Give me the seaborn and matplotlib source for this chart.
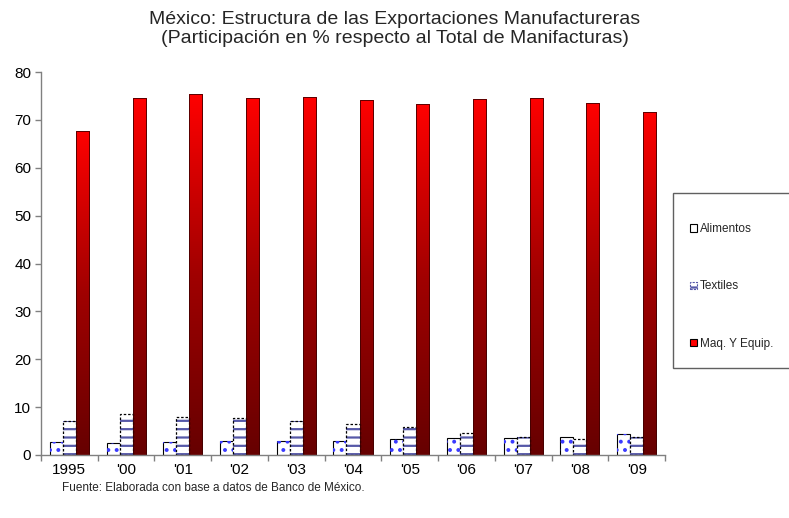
import numpy as np
import pandas as pd
import matplotlib
matplotlib.use("Agg")
import matplotlib.pyplot as plt
from matplotlib.patches import Rectangle, Patch
from matplotlib.colors import LinearSegmentedColormap
import seaborn as sns

years = ["1995", "'00", "'01", "'02", "'03", "'04", "'05", "'06", "'07", "'08", "'09"]
alimentos = [2.8, 2.5, 2.7, 3.0, 3.0, 3.0, 3.3, 3.5, 3.5, 3.7, 4.4]
textiles = [7.2, 8.6, 7.9, 7.7, 7.2, 6.4, 5.8, 4.6, 3.8, 3.3, 3.7]
maquinaria = [67.7, 74.5, 75.4, 74.5, 74.7, 74.2, 73.3, 74.4, 74.5, 73.5, 71.7]
series = ["Alimentos", "Textiles", "Maq. Y Equip."]
title = "México: Estructura de las Exportaciones Manufactureras\n(Participación en % respecto al Total de Manifacturas)"
source = "Fuente: Elaborada con base a datos de Banco de México."

df = pd.DataFrame({
    "year": years * 3,
    "value": alimentos + textiles + maquinaria,
    "serie": [series[0]] * len(years) + [series[1]] * len(years) + [series[2]] * len(years),
})

sns.set_theme(style="white")
plt.rcParams["font.family"] = ["Liberation Sans", "DejaVu Sans"]
plt.rcParams["hatch.linewidth"] = 1.6

fig = plt.figure(figsize=(7.89, 5.18), dpi=100)
ax = fig.add_axes([41 / 789, 63 / 518, 624 / 789, 383 / 518])

sns.barplot(data=df, x="year", y="value", hue="serie", order=years, hue_order=series,
            palette=["white", "white", "red"], width=0.69, legend=False, ax=ax,
            saturation=1)

cont_al, cont_tx, cont_mq = ax.containers
for p in cont_al:
    p.set_facecolor("white")
    p.set_edgecolor("black")
    p.set_linewidth(0.8)
    ov = Rectangle(p.get_xy(), p.get_width(), p.get_height(), facecolor="none",
                   edgecolor="#3a3aff", linewidth=0, hatch="..", zorder=p.get_zorder() + 0.1)
    ax.add_patch(ov)
for p in cont_tx:
    p.set_facecolor("white")
    p.set_edgecolor("none")
    z = p.get_zorder()
    ov = Rectangle(p.get_xy(), p.get_width(), p.get_height(), facecolor="none",
                   edgecolor="#5658a8", linewidth=0, hatch="--", zorder=z + 0.1)
    ax.add_patch(ov)
    bd = Rectangle(p.get_xy(), p.get_width(), p.get_height(), facecolor="none",
                   edgecolor="black", linewidth=0.9, linestyle=(0, (2, 1.5)), zorder=z + 0.2)
    ax.add_patch(bd)

cmap = LinearSegmentedColormap.from_list("rg", ["#660000", "#a00000", "#ff0000"])
grad = np.linspace(0, 1, 256).reshape(-1, 1)
for p in cont_mq:
    x0, h, w = p.get_x(), p.get_height(), p.get_width()
    im = ax.imshow(grad, extent=[x0, x0 + w, 0, h], origin="lower", cmap=cmap,
                   aspect="auto", zorder=p.get_zorder() + 0.1)
    im.set_clip_path(p)
    ov = Rectangle(p.get_xy(), w, h, facecolor="none", edgecolor="#400000",
                   linewidth=0.6, zorder=p.get_zorder() + 0.2)
    ax.add_patch(ov)

ax.set_ylim(0, 80)
ax.set_xlim(-0.5, len(years) - 0.5)

for s in ["top", "right"]:
    ax.spines[s].set_visible(False)
for s in ["left", "bottom"]:
    ax.spines[s].set_color("#808080")
    ax.spines[s].set_linewidth(1.0)

ax.set_yticks(range(0, 81, 10))
ax.set_xticks(range(len(years)))
ax.set_xticklabels(years)
ax.set_xticks(np.arange(-0.5, len(years), 1.0), minor=True)
ax.tick_params(axis="y", which="major", left=True, length=4, width=1, color="#808080",
               labelsize=11, pad=3, labelcolor="black")
ax.tick_params(axis="x", which="major", bottom=False, length=0, labelsize=11, pad=6,
               labelcolor="black")
ax.tick_params(axis="x", which="minor", bottom=True, length=4, width=1, color="#808080")
ax.set_xlabel("")
ax.set_ylabel("")

fig.text(395 / 789, 1 - 29 / 518, title, ha="center", va="center", fontsize=14,
         linespacing=1.15)
fig.text(62 / 789, 1 - 488 / 518, source, ha="left", va="center", fontsize=8.5)

# legend frame
frame = Rectangle((673 / 789, 1 - 368 / 518), 0.2, 175 / 518, transform=fig.transFigure,
                  facecolor="white", edgecolor="#606060", linewidth=1.0, zorder=0)
fig.patches.append(frame)

handles = [
    Patch(facecolor="white", edgecolor="black", linewidth=0.8),
    Patch(facecolor="white", edgecolor="#5658a8", linewidth=0.8, hatch="--", linestyle=(0, (2, 1))),
    Patch(facecolor="red", edgecolor="black", linewidth=0.8),
]
leg = fig.legend(handles, series, loc="upper left",
                 bbox_to_anchor=(690 / 789, 1 - 223 / 518), frameon=False,
                 fontsize=8.5, handlelength=0.6, handleheight=0.6, handletextpad=0.25,
                 labelspacing=3.85, borderpad=0, borderaxespad=0)

fig.savefig("out.png", dpi=100)
